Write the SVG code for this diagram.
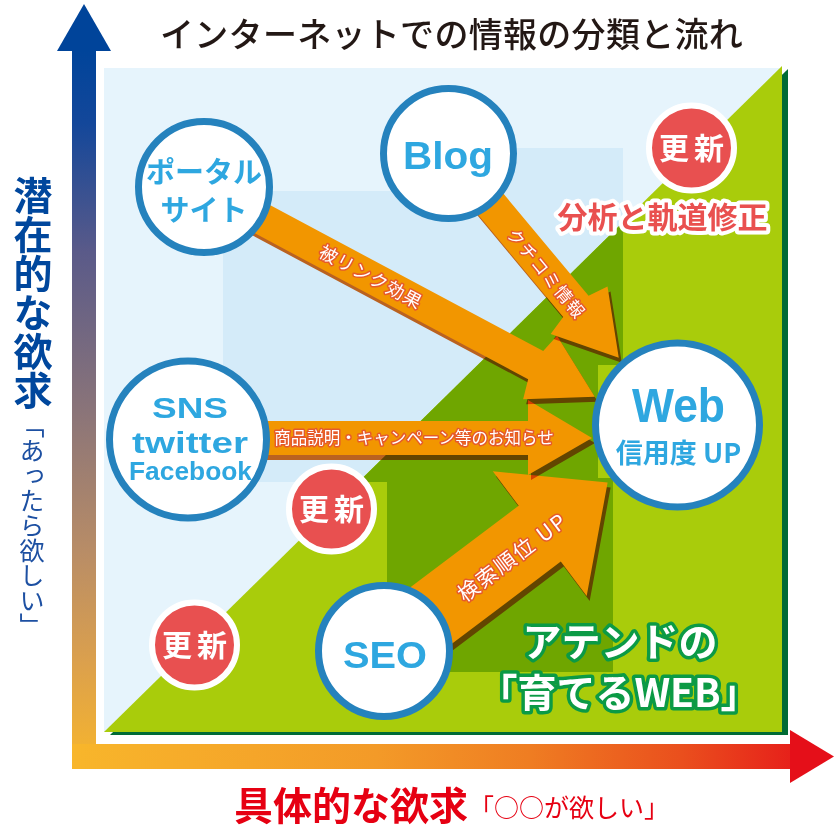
<svg xmlns="http://www.w3.org/2000/svg" xmlns:xlink="http://www.w3.org/1999/xlink" width="835" height="832" viewBox="0 0 835 832">
<style>
.jp{font-family:'Noto Sans CJK JP','Noto Sans CJK SC',sans-serif}
.lat{font-family:'Liberation Sans',Arial,sans-serif;font-weight:bold}
.ring{fill:#fff;stroke:#2582bd;stroke-width:7}
.ctext{fill:#2ea7e0;text-anchor:middle}
.arrow{fill:#f29600}
.shadow{fill:#e06a20;mix-blend-mode:multiply}
.alabel{fill:#fff;stroke:#e65a2a;stroke-width:3;paint-order:stroke;stroke-linejoin:round;font-size:18px}
.upd circle{fill:#e85050;stroke:#fff;stroke-width:6}
.upd text{fill:#fff;font-weight:bold;font-size:30px;letter-spacing:5px;text-anchor:middle}
.green{fill:#fff;stroke:#0b9a45;stroke-width:7;paint-order:stroke;stroke-linejoin:round;font-weight:bold;font-size:39px;text-anchor:middle}
</style>
<defs>
<linearGradient id="gv" gradientUnits="userSpaceOnUse" x1="0" y1="51" x2="0" y2="769">
<stop offset="0" stop-color="#00449a"/>
<stop offset="0.1" stop-color="#13479a"/>
<stop offset="0.28" stop-color="#5a5a89"/>
<stop offset="0.5" stop-color="#8a7479"/>
<stop offset="0.7" stop-color="#b98d66"/>
<stop offset="0.85" stop-color="#dba04d"/>
<stop offset="1" stop-color="#f8b62b"/>
</linearGradient>
<linearGradient id="gh" gradientUnits="userSpaceOnUse" x1="72" y1="0" x2="834" y2="0">
<stop offset="0" stop-color="#f8b62b"/>
<stop offset="0.4" stop-color="#f39a28"/>
<stop offset="0.6" stop-color="#ef7d22"/>
<stop offset="0.8" stop-color="#ea4f1d"/>
<stop offset="1" stop-color="#e50f19"/>
</linearGradient>
<clipPath id="tri"><polygon points="104,732 782,66 782,732"/></clipPath>
<polygon id="a1" transform="translate(204,188) rotate(28.1)" points="0,-16 376,-16 381,-36 443,0 381,36 376,16 0,16"/>
<polygon id="a2" transform="translate(448.5,153.5) rotate(50.2)" points="0,-16.5 199,-16.5 204,-37 266,0 204,37 199,16.5 0,16.5"/>
<polygon id="a3" transform="translate(188,438)" points="0,-17 340,-17 340,-38 404,0 340,37 340,17 0,17"/>
<polygon id="a4" transform="translate(384,651) rotate(-37)" points="0,-35 195,-35 195,-78 280,0 195,78 195,35 0,35"/>
</defs>

<g id="axes">
<rect x="72" y="51" width="24" height="718" fill="url(#gv)"/>
<polygon points="84,4 111,51 57,51" fill="#00449a"/>
<rect x="72" y="744" width="718" height="25" fill="url(#gh)"/>
<polygon points="790,730 834,756.5 790,783" fill="#e50f19"/>
</g>

<g id="plot">
<rect x="104" y="68" width="678" height="664" fill="#e6f4fc"/>
<path d="M223,191 H400 V148 H623 V365 H599 V478 H613 V672 H387 V482 H223 Z" fill="#d4ebf9"/>
<polygon points="110,735 788,69 788,735" fill="#006b35"/>
<polygon points="104,732 782,66 782,732" fill="#a9cc0b"/>
<path clip-path="url(#tri)" d="M223,191 H400 V148 H623 V365 H599 V478 H613 V672 H387 V482 H223 Z" fill="#6fa600"/>
</g>

<g id="connectors">
<use xlink:href="#a4" class="shadow" transform="translate(3,5)"/>
<use xlink:href="#a4" class="arrow"/>
<use xlink:href="#a3" class="shadow" transform="translate(3,5)"/>
<use xlink:href="#a3" class="arrow"/>
<use xlink:href="#a1" class="shadow" transform="translate(3,5)"/>
<use xlink:href="#a1" class="arrow"/>
<use xlink:href="#a2" class="shadow" transform="translate(3,5)"/>
<use xlink:href="#a2" class="arrow"/>
<text class="jp alabel" transform="translate(204,188) rotate(28.1)" x="189" y="6.5" text-anchor="middle" letter-spacing="1">被リンク効果</text>
<text class="jp alabel" transform="translate(448.5,153.5) rotate(50.2)" x="155" y="8" text-anchor="middle" style="font-size:17px" letter-spacing="1.5">クチコミ情報</text>
<text class="jp alabel" x="414" y="444" text-anchor="middle" style="font-size:16.5px">商品説明・キャンペーン等のお知らせ</text>
<text class="jp alabel" transform="translate(384,651) rotate(-37)" x="159" y="10" text-anchor="middle" style="font-size:21px" letter-spacing="2">検索順位 UP</text>
</g>

<g id="node-portal">
<circle class="ring" cx="204" cy="187" r="65.5"/>
<text class="jp ctext" x="204" y="183" font-size="29" font-weight="bold">ポータル</text>
<text class="jp ctext" x="204" y="221" font-size="29" font-weight="bold">サイト</text>
</g>
<g id="node-blog">
<circle class="ring" cx="448.5" cy="153.5" r="65"/>
<text class="lat ctext" x="448" y="169" font-size="39" textLength="90" lengthAdjust="spacingAndGlyphs">Blog</text>
</g>
<g id="node-sns">
<circle class="ring" cx="188" cy="439.5" r="78.5"/>
<text class="lat ctext" x="190" y="418" font-size="30" textLength="76" lengthAdjust="spacingAndGlyphs">SNS</text>
<text class="lat ctext" x="190" y="453" font-size="29" textLength="116" lengthAdjust="spacingAndGlyphs">twitter</text>
<text class="lat ctext" x="190.5" y="480" font-size="25" textLength="123" lengthAdjust="spacingAndGlyphs">Facebook</text>
</g>
<g id="node-web">
<rect x="598" y="365" width="25" height="113" fill="#a9cc0b"/>
<circle class="ring" cx="677.5" cy="425" r="82"/>
<text class="lat ctext" x="678.5" y="422" font-size="49" textLength="93" lengthAdjust="spacingAndGlyphs">Web</text>
<text class="jp ctext" x="678.5" y="463" font-size="27" font-weight="bold">信用度 UP</text>
</g>
<g id="node-seo">
<circle class="ring" cx="384" cy="651" r="65.5"/>
<text class="lat ctext" x="385" y="668" font-size="36" textLength="84" lengthAdjust="spacingAndGlyphs">SEO</text>
</g>

<g id="update-1" class="upd jp"><circle cx="691.5" cy="148" r="42.5"/><text x="694" y="159">更新</text></g>
<g id="update-2" class="upd jp"><circle cx="331.5" cy="509" r="42.5"/><text x="334" y="520">更新</text></g>
<g id="update-3" class="upd jp"><circle cx="194.5" cy="645" r="42.5"/><text x="197" y="656">更新</text></g>

<g id="labels">
<text class="jp" x="160" y="47" font-size="34" font-weight="500" fill="#231815" letter-spacing="0.3">インターネットでの情報の分類と流れ</text>
<text class="jp" x="662.5" y="228" font-size="30" font-weight="bold" fill="#e9504f" stroke="#fff" stroke-width="8" paint-order="stroke" stroke-linejoin="round" text-anchor="middle">分析と軌道修正</text>
<text class="jp green" x="620" y="656">アテンドの</text>
<text class="jp green" x="619" y="707">「育てるWEB」</text>
<text class="jp" x="33" y="176" font-size="39" font-weight="bold" fill="#00479d" style="writing-mode:vertical-rl">潜在的な欲求</text>
<text class="jp" x="32" y="413" font-size="25" fill="#1d50a2" style="writing-mode:vertical-rl">「あったら欲しい」</text>
<text class="jp" x="234" y="820" font-size="39" font-weight="bold" fill="#e60012">具体的な欲求</text>
<text class="jp" x="469" y="816.5" font-size="25" fill="#e60012">「○○が欲しい」</text>
</g>
</svg>
